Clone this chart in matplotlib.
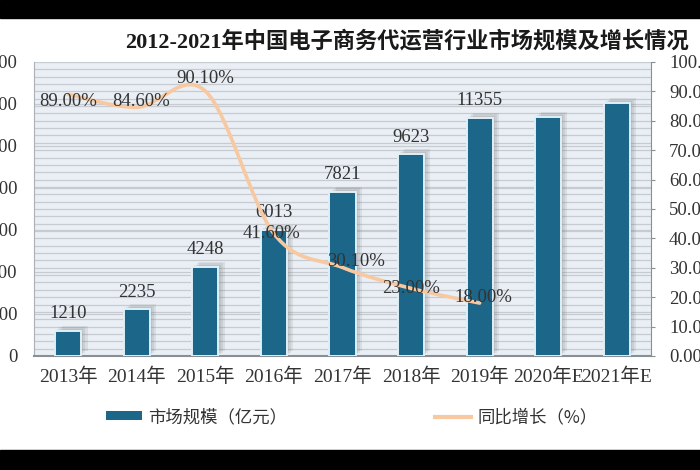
import numpy as np
import matplotlib
matplotlib.use("Agg")
import matplotlib.pyplot as plt
from matplotlib.path import Path
from matplotlib.patches import PathPatch, Rectangle, Patch
from matplotlib.lines import Line2D
from matplotlib.ticker import MultipleLocator, FormatStrFormatter
import matplotlib.patheffects as pe

plt.rcParams['font.family'] = ['Liberation Serif', 'Noto Sans CJK SC', 'DejaVu Sans']

# data
years = ["2013年", "2014年", "2015年", "2016年", "2017年", "2018年", "2019年", "2020年E", "2021年E"]
market = [1210, 2235, 4248, 6013, 7821, 9623, 11355, 11400, 12050]
bar_labels = ["1210", "2235", "4248", "6013", "7821", "9623", "11355", "", ""]
growth = [89.00, 84.60, 90.10, 41.60, 30.10, 23.00, 18.00]

bar_col = "#1b6689"
line_col = "#f8c9a0"
txt_col = "#333333"

fig = plt.figure(figsize=(7, 4.7), dpi=100)
ax = fig.add_axes([0.0486, 0.2426, 0.8814, 0.6255])
ax2 = ax.twinx()

x = np.arange(len(years))
ax.set_facecolor("#e9eff5")
ax.set_xlim(-0.5, len(years) - 0.5)
ax.set_ylim(0, 14000)
ax.yaxis.set_major_locator(MultipleLocator(2000))
ax.yaxis.set_minor_locator(MultipleLocator(350))
ax.grid(True, which="both", axis="y", color="#c6cbd1", lw=0.9)
ax.set_axisbelow(True)

shadow = [pe.SimplePatchShadow(offset=(o, o * 0.8), shadow_rgbFace="#777777", alpha=0.14)
          for o in (1.5, 3, 4.5)] + [pe.Normal()]
bars = ax.bar(x, market, width=0.38, color=bar_col, edgecolor="#dff0f8", lw=1.4,
              path_effects=shadow, zorder=3)
for xi, v, lab in zip(x, market, bar_labels):
    if lab:
        ax.annotate(lab, (xi, v), xytext=(0, 6), textcoords="offset points",
                    ha="center", va="bottom", fontsize=13.5, color=txt_col, zorder=5)

ax.set_xticks(x)
ax.set_xticklabels(years, fontsize=14, color=txt_col)
ax.tick_params(axis="x", length=0, pad=8)
ax.tick_params(axis="y", which="both", length=0, pad=12, labelsize=13.5, labelcolor=txt_col)
for s in ("top", "right"):
    ax.spines[s].set_visible(False)
ax.spines["left"].set_color("#aab0b6")
ax.spines["bottom"].set_color("#8a8f94")
ax.spines["bottom"].set_linewidth(1.5)

# smoothed growth line (Catmull-Rom style bezier through the data points)
ax2.set_ylim(0, 100)
ax2.yaxis.set_major_locator(MultipleLocator(10))
ax2.yaxis.set_major_formatter(FormatStrFormatter("%.2f"))
ax2.tick_params(axis="y", length=3, direction="out", color="#8a8f94", pad=10,
                labelsize=13.5, labelcolor=txt_col)
for s in ("top", "left", "bottom"):
    ax2.spines[s].set_visible(False)
ax2.spines["right"].set_color("#8a8f94")

pts = np.column_stack([np.arange(len(growth)), growth]).astype(float)
ext = np.vstack([pts[0], pts, pts[-1]])
verts = [pts[0]]
codes = [Path.MOVETO]
for i in range(len(pts) - 1):
    p0, p1, p2, p3 = ext[i], ext[i + 1], ext[i + 2], ext[i + 3]
    verts += [p1 + (p2 - p0) / 6, p2 - (p3 - p1) / 6, p2]
    codes += [Path.CURVE4] * 3
ax2.add_patch(PathPatch(Path(verts, codes), fill=False, edgecolor=line_col, lw=2.6,
                        capstyle="round", zorder=4))

offs = [(0, -5), (3, 4), (0, 9), (-2, 0), (10, 4), (0, 0), (3, 4)]
for i, (g, o) in enumerate(zip(growth, offs)):
    ax2.annotate(f"{g:.2f}%", (i, g), xytext=o, textcoords="offset points",
                 ha="center", va="center", fontsize=13.5, color=txt_col, zorder=6)

fig.text(0.582, 1 - 42 / 470, "2012-2021年中国电子商务代运营行业市场规模及增长情况",
         ha="center", va="center", fontsize=16, fontweight="bold", color="#1a1a1a")

handles = [Patch(facecolor=bar_col, edgecolor="none"),
           Line2D([], [], color=line_col, lw=3)]
fig.legend(handles, ["市场规模（亿元）", "同比增长（%）"], loc="center",
           bbox_to_anchor=(0.502, 1 - 417 / 470), ncol=2, frameon=False,
           prop={"family": ["Noto Sans CJK SC"], "size": 12.5},
           handlelength=2.1, handleheight=0.4, handletextpad=0.35, columnspacing=8.5,
           labelcolor=txt_col)

# black bands of the screenshot
fig.add_artist(Rectangle((0, 1 - 18 / 470), 1, 18 / 470, transform=fig.transFigure,
                         color="black", zorder=10))
fig.add_artist(Rectangle((0, 0), 1, 20 / 470, transform=fig.transFigure,
                         color="black", zorder=10))

fig.savefig("out.png", dpi=100, facecolor="white")
